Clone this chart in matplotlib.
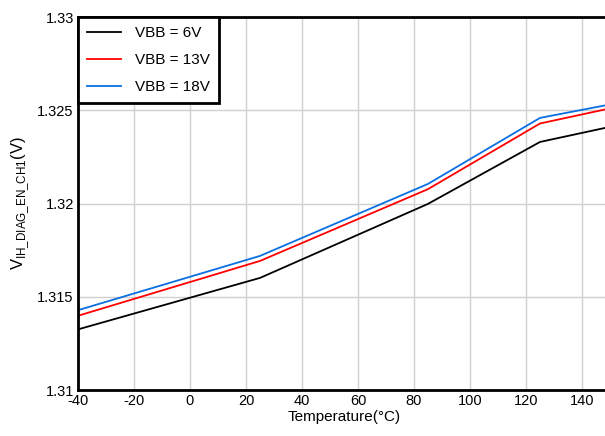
import matplotlib.pyplot as plt

plt.rcParams['font.family'] = ['Liberation Sans', 'DejaVu Sans']
plt.rcParams['axes.unicode_minus'] = False

temps = [-40, 25, 85, 125, 150]
v_6 = [1.31325, 1.31601, 1.31998, 1.32330, 1.32411]
v_13 = [1.31398, 1.31692, 1.32077, 1.32429, 1.32510]
v_18 = [1.31428, 1.31719, 1.32105, 1.32459, 1.32531]

x_ticks = [-40, -20, 0, 20, 40, 60, 80, 100, 120, 140]
y_ticks = [1.31, 1.315, 1.32, 1.325, 1.33]
y_labels = ['1.31', '1.315', '1.32', '1.325', '1.33']

fig = plt.figure(figsize=(6.05, 4.36), dpi=100)
ax = fig.add_axes([78 / 605, 46 / 436, 532 / 605, 373 / 436])

ax.plot(temps, v_6, color='black', lw=1.3, label='VBB = 6V')
ax.plot(temps, v_13, color='#ff0000', lw=1.3, label='VBB = 13V')
ax.plot(temps, v_18, color='#0a6fe0', lw=1.3, label='VBB = 18V')

ax.set_xlim(-40, 150)
ax.set_ylim(1.31, 1.33)
ax.set_xticks(x_ticks)
ax.set_yticks(y_ticks)
ax.set_yticklabels(y_labels)
ax.tick_params(length=0, labelsize=10.5, pad=3)
ax.grid(True, color='#d0d0d0', lw=1)
ax.set_axisbelow(True)
for s in ax.spines.values():
    s.set_linewidth(2)

ax.set_xlabel('Temperature(°C)', fontsize=11, labelpad=1)
ax.set_ylabel(r'V$_{\mathregular{IH\_DIAG\_EN\_CH1}}$(V)', fontsize=12, labelpad=4)

leg = ax.legend(loc='upper left', fontsize=11, fancybox=False, framealpha=1,
                edgecolor='black', borderaxespad=0, handlelength=2.2,
                handletextpad=0.95, labelspacing=0.85, borderpad=0.6)
leg.get_frame().set_linewidth(2)

fig.savefig('out.png', dpi=100)
